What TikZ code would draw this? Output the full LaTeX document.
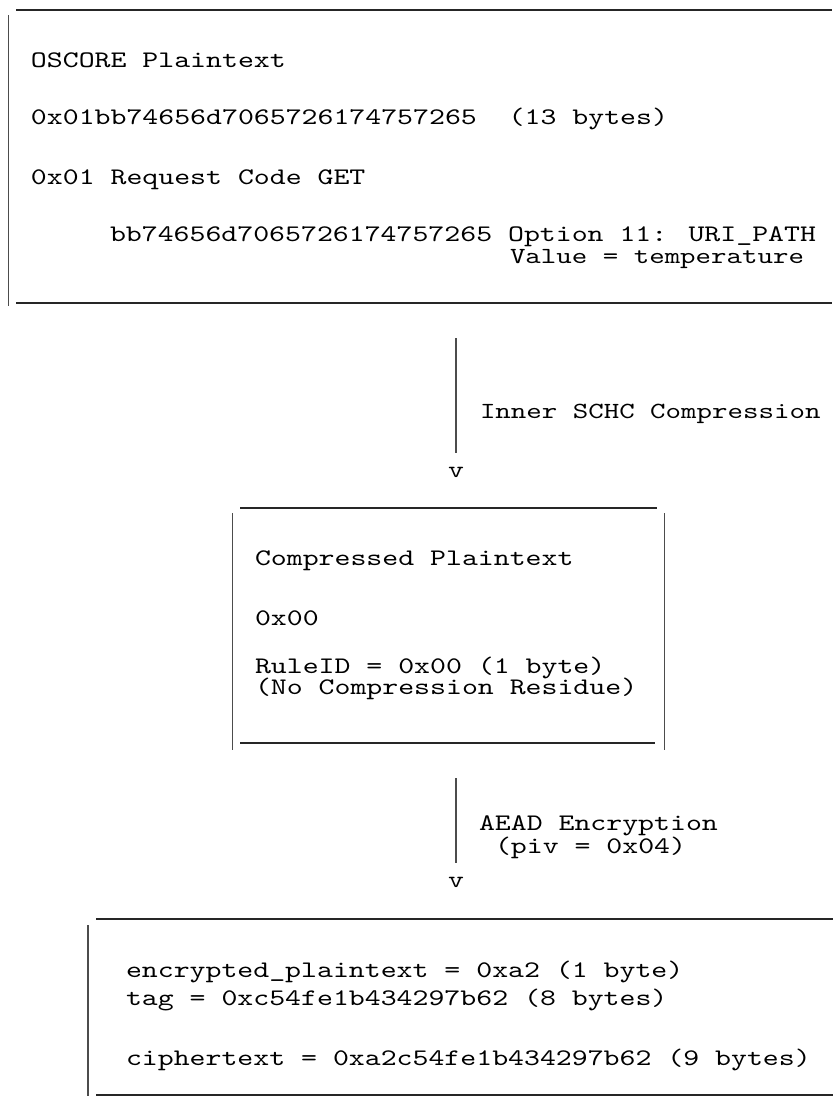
\documentclass[tikz,border=0pt]{standalone}
\usepackage{fontspec}
% widened typewriter face for the listing text
\newfontfamily\codefont{lmmono10-regular.otf}[FakeStretch=1.278]
\begin{document}
\begin{tikzpicture}[x=0.75pt,y=-0.75pt,
  txt/.style={anchor=base west, inner sep=0pt, outer sep=0pt,
    font=\codefont\fontsize{17.8pt}{22pt}\selectfont},
  txtn/.style={txt, font=\codefont\fontsize{17.3pt}{22pt}\selectfont},
  arrowhead/.style={anchor=base, inner sep=0pt, outer sep=0pt,
    font=\codefont\fontsize{17.8pt}{22pt}\selectfont},
  hrule/.style={line width=1.1pt, draw=black!85},
  vrule/.style={line width=1pt, draw=black!70},
]
\useasboundingbox (0,0) rectangle (833,1096);

% --- OSCORE plaintext box (open on the right) ---
\draw[hrule] (16,10) -- (832,10);
\draw[vrule] (8.5,15) -- (8.5,306);
\draw[hrule] (16,303) -- (832,303);
\node[txt] (p1) at (31,67)  {OSCORE Plaintext};
\node[txt] (p2) at (31,124) {0x01bb74656d7065726174757265~~(13 bytes)};
\node[txt] (p3) at (31,184) {0x01 Request Code GET};
\node[txt] (p4) at (110,241) {bb74656d7065726174757265 Option 11: URI\_PATH};
\node[txtn] (p5) at (510,263) {Value = temperature};

% --- inner SCHC compression step ---
\coordinate (c1top) at (456,338);
\coordinate (c1bot) at (456,453);
\node[arrowhead] (v1) at (456,477) {v};
\draw[vrule] (c1top) -- (c1bot);
\node[txtn] (l1) at (480,418) {Inner SCHC Compression};

% --- compressed plaintext box ---
\draw[hrule] (240,508) -- (657,508);
\draw[vrule] (232.3,513) -- (232.3,750);
\draw[vrule] (664.3,513) -- (664.3,750);
\draw[hrule] (240,743) -- (655,743);
\node[txt] (m1) at (255,565) {Compressed Plaintext};
\node[txt] (m2) at (255,625) {0x00};
\node[txt] (m3) at (255,673) {RuleID = 0x00 (1 byte)};
\node[txt] (m4) at (255,694) {(No Compression Residue)};

% --- AEAD encryption step ---
\coordinate (c2top) at (456,778);
\coordinate (c2bot) at (456,863);
\node[arrowhead] (v2) at (456,887) {v};
\draw[vrule] (c2top) -- (c2bot);
\node[txt] (l2) at (479,830) {AEAD Encryption};
\node[txt] (l3) at (495,853) {(piv = 0x04)};

% --- ciphertext box (open on the right) ---
\draw[hrule] (96,919) -- (833,919);
\draw[vrule] (88,925) -- (88,1096);
\draw[hrule] (96,1095) -- (833,1095);
\node[txt] (e1) at (126,977)  {encrypted\_plaintext = 0xa2 (1 byte)};
\node[txt] (e2) at (126,1005) {tag = 0xc54fe1b434297b62 (8 bytes)};
\node[txt] (e3) at (126,1065) {ciphertext = 0xa2c54fe1b434297b62 (9 bytes)};
\end{tikzpicture}
\end{document}
